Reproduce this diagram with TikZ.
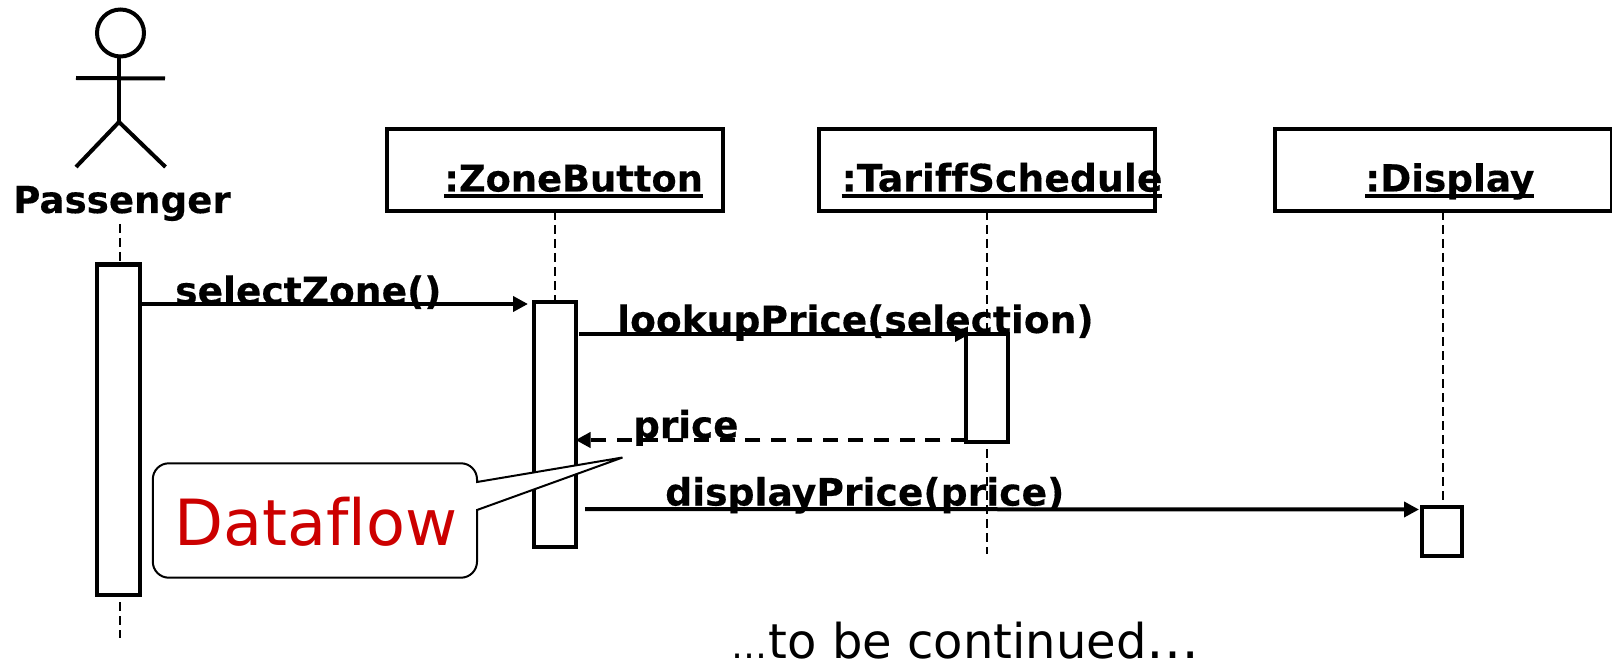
\documentclass[tikz,border=0pt]{standalone}
\usepackage{fontspec}
\setmainfont[Ligatures=NoCommon]{DejaVu Sans}
\newfontfamily\labelfam[Ligatures=NoCommon,FakeBold=0.35]{DejaVu Sans Bold}
\usetikzlibrary{arrows.meta}
\newcommand{\ulbl}[1]{\setbox0=\hbox{#1}\rlap{\rule[-7pt]{\wd0}{4pt}}\box0}
\newcommand{\lblfont}[1]{\labelfam\fontsize{#1}{40}\selectfont}
\tikzset{
  x=1pt,y=-1pt,
  solidline/.style={line width=4pt,draw=black},
  objbox/.style={draw=black,line width=4pt,fill=white,minimum height=81.7pt,inner sep=0pt,outer sep=0pt,anchor=north west},
  activation/.style={draw=black,line width=4pt,fill=white,inner sep=0pt,outer sep=0pt,anchor=north west},
  lifeline/.style={draw=black,line width=2pt,dash pattern=on 9pt off 5pt},
  msgarrow/.style={line width=4pt,-{Triangle[length=15pt,width=15pt]}},
  retarrow/.style={line width=4pt,dash pattern=on 15pt off 10.7pt,-{Triangle[length=15pt,width=15pt]}},
  labelbold/.style={inner sep=0pt,anchor=base west,font=\lblfont{37.4}},
}
\begin{document}
\begin{tikzpicture}
\useasboundingbox (0,0) rectangle (1612,663);
% actor
\node[draw=black,line width=4pt,circle,minimum size=47pt,inner sep=0pt,outer sep=0pt] (head) at (120.5,33) {};
\coordinate (hip) at (119,122);
\coordinate (armL) at (76,78);
\coordinate (armR) at (165,78.5);
\coordinate (legL) at (76,167);
\coordinate (legR) at (165.5,167);
\draw[solidline] (head.south -| hip) -- (hip);
\draw[solidline] (armL) -- (armR);
\draw[solidline] (legL) -- (hip) -- (legR);
\node[labelbold,font=\lblfont{37.2}] (passenger) at (13,213) {Passenger};
% lifelines (under the boxes)
\coordinate (pTop) at (120,224);
\coordinate (pBot) at (120,638);
\coordinate (zTop) at (555,211);
\coordinate (zBot) at (555,302);
\coordinate (tTop) at (987,211);
\coordinate (tBot) at (987,554);
\coordinate (dTop) at (1443,211);
\coordinate (dBot) at (1443,507);
\draw[lifeline] (pTop) -- (pBot);
\draw[lifeline] (zTop) -- (zBot);
\draw[lifeline] (tTop) -- (tBot);
\draw[lifeline] (dTop) -- (dBot);
% object boxes
\node[objbox,minimum width=336pt] (zb) at (386.5,129) {};
\node[objbox,minimum width=336pt] (ts) at (818.5,129) {};
\node[objbox,minimum width=337pt] (di) at (1274.5,129) {};
\node[labelbold,font=\lblfont{36.8}] (zbl) at (444,191.5) {\ulbl{:ZoneButton}};
\node[labelbold,font=\lblfont{37.8}] (tsl) at (841.5,191.5) {\ulbl{:TariffSchedule}};
\node[labelbold,font=\lblfont{37.4}] (dil) at (1365,191.5) {\ulbl{:Display}};
% activations
\node[activation,minimum width=43pt,minimum height=330pt] (ap) at (97,264.5) {};
\node[activation,minimum width=42pt,minimum height=245pt] (az) at (533.5,302) {};
\node[activation,minimum width=42pt,minimum height=108pt] (at) at (966,334) {};
\node[activation,minimum width=40pt,minimum height=49pt] (ad) at (1422,507) {};
% message ends
\coordinate (m1a) at (ap.east |- 0,304);
\coordinate (m1b) at (528,304);
\coordinate (m2a) at (579,334);
\coordinate (m2b) at (970,334);
\coordinate (m3a) at (at.west |- 0,440);
\coordinate (m3b) at (az.east |- 0,440);
\coordinate (m4a) at (585,509);
\coordinate (m4b) at (1419,509.5);
\draw[msgarrow] (m1a) -- (m1b);
\draw[msgarrow] (m2a) -- (m2b);
\draw[retarrow] (m3a) -- (m3b);
\draw[msgarrow] (m4a) -- (m4b);
\node[labelbold,font=\lblfont{37.6}] (l1) at (175,304) {selectZone()};
\node[labelbold,font=\lblfont{37.6}] (l2) at (617,333) {lookupPrice(selection)};
\node[labelbold,font=\lblfont{37.3}] (l3) at (633,438) {price};
\node[labelbold,font=\lblfont{37.7}] (l4) at (665,505.5) {displayPrice(price)};
% callout
\coordinate (tip) at (622.5,457.5);
\draw[black,line width=2pt,fill=white,line join=miter]
  (477,482) -- (tip) -- (477,510) -- (477,561.7) arc[start angle=0,end angle=90,radius=16]
  -- (168.8,577.7) arc[start angle=90,end angle=180,radius=16]
  -- (152.8,479.3) arc[start angle=180,end angle=270,radius=16]
  -- (461,463.3) arc[start angle=270,end angle=360,radius=16] -- cycle;
\node[inner sep=0pt,anchor=base west,font=\fontsize{63.7}{66}\selectfont,text={rgb,255:red,204;green,0;blue,0}] (flow) at (174,545.5) {Dataflow};
% footer
\node[inner sep=0pt,anchor=base west,font=\fontsize{48}{52}\selectfont] (cont) at (731,658.5) {{\fontsize{36}{40}\selectfont …}\hspace{1.5pt}to be continued{\fontsize{53}{56}\selectfont …}};
\end{tikzpicture}
\end{document}
